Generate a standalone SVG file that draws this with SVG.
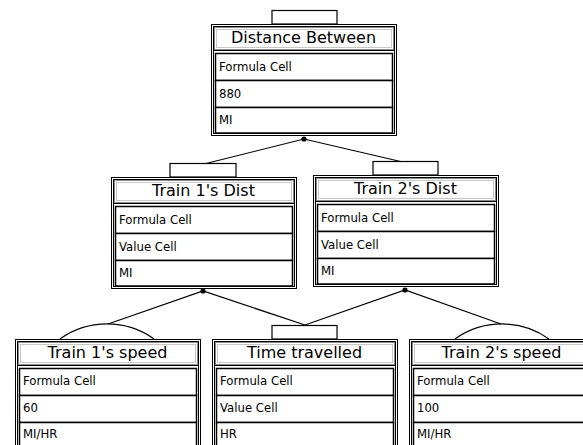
<svg xmlns="http://www.w3.org/2000/svg" width="583" height="445" viewBox="0 0 583 445">
  <style>
    .frame { fill: #fff; stroke: #000; stroke-width: 1; }
    .inner { fill: none; stroke: #000; stroke-width: 1; }
    .title { fill: #fff; stroke: #8a8a8a; stroke-width: 1; }
    .title2 { fill: none; stroke: #c8c8c8; stroke-width: 1; }
    .row { fill: #fff; stroke: #000; stroke-width: 1.5; }
    .tab { fill: #fff; stroke: #000; stroke-width: 1.2; }
    .ttl { font-family: "DejaVu Sans", sans-serif; font-size: 16px; fill: #000; text-anchor: middle; }
    .cell { font-family: "DejaVu Sans", sans-serif; font-size: 11.7px; fill: #000; }
    .link { fill: none; stroke: #000; stroke-width: 1.2; }
  </style>
  <defs>
    <!-- node body: double frame, title band and three cell rows -->
    <g id="body">
      <rect class="frame" x="0.5" y="0.5" width="185" height="111"/>
      <rect class="inner" x="2.5" y="2.5" width="181" height="107"/>
      <rect class="title" x="3.5" y="3.5" width="179" height="22"/>
      <rect class="title2" x="5.5" y="5.5" width="175" height="18"/>
      <line x1="2.5" y1="26.5" x2="183.5" y2="26.5" stroke="#000" stroke-width="1"/>
      <rect class="row" x="4.5" y="29.5" width="177" height="27"/>
      <rect class="row" x="4.5" y="56.5" width="177" height="27"/>
      <rect class="row" x="4.5" y="83.5" width="177" height="25.5"/>
    </g>
  </defs>

  <!-- connectors -->
  <g id="connectors">
    <polyline class="link" points="204,164 304,139 407,163"/>
    <circle cx="304" cy="139" r="2.6"/>
    <polyline class="link" points="108,324 203,291 305,325"/>
    <circle cx="203" cy="291" r="2.6"/>
    <polyline class="link" points="305,325 405,290 501,324"/>
    <circle cx="405" cy="290" r="2.6"/>
    <path class="link" d="M60,339 A81,81 0 0 1 154,339"/>
    <path class="link" d="M455,339 A81,81 0 0 1 549,339"/>
  </g>

  <g id="distance-between">
    <rect class="tab" x="272" y="10.5" width="65" height="13.5"/>
    <use href="#body" x="211" y="24"/>
    <text class="ttl" x="303.5" y="43">Distance Between</text>
    <text class="cell" x="219" y="71">Formula Cell</text>
    <text class="cell" x="219" y="98">880</text>
    <text class="cell" x="219" y="124">MI</text>
  </g>

  <g id="train1-dist">
    <rect class="tab" x="170" y="163.5" width="66" height="13.5"/>
    <use href="#body" x="111" y="177"/>
    <text class="ttl" x="203.5" y="196">Train 1's Dist</text>
    <text class="cell" x="119" y="224">Formula Cell</text>
    <text class="cell" x="119" y="251">Value Cell</text>
    <text class="cell" x="119" y="277">MI</text>
  </g>

  <g id="train2-dist">
    <rect class="tab" x="373" y="161.5" width="65" height="13.5"/>
    <use href="#body" x="313" y="175"/>
    <text class="ttl" x="405.5" y="194">Train 2's Dist</text>
    <text class="cell" x="321" y="222">Formula Cell</text>
    <text class="cell" x="321" y="249">Value Cell</text>
    <text class="cell" x="321" y="275">MI</text>
  </g>

  <g id="train1-speed">
    <use href="#body" x="15" y="339"/>
    <text class="ttl" x="107.5" y="358">Train 1's speed</text>
    <text class="cell" x="23" y="385">Formula Cell</text>
    <text class="cell" x="23" y="412">60</text>
    <text class="cell" x="23" y="438">MI/HR</text>
  </g>

  <g id="time-travelled">
    <rect class="tab" x="272" y="325.5" width="65" height="13.5"/>
    <use href="#body" x="212" y="339"/>
    <text class="ttl" x="304.5" y="358">Time travelled</text>
    <text class="cell" x="220" y="385">Formula Cell</text>
    <text class="cell" x="220" y="412">Value Cell</text>
    <text class="cell" x="220" y="438">HR</text>
  </g>

  <g id="train2-speed">
    <use href="#body" x="409" y="339"/>
    <text class="ttl" x="501.5" y="358">Train 2's speed</text>
    <text class="cell" x="417" y="385">Formula Cell</text>
    <text class="cell" x="417" y="412">100</text>
    <text class="cell" x="417" y="438">MI/HR</text>
  </g>
</svg>
